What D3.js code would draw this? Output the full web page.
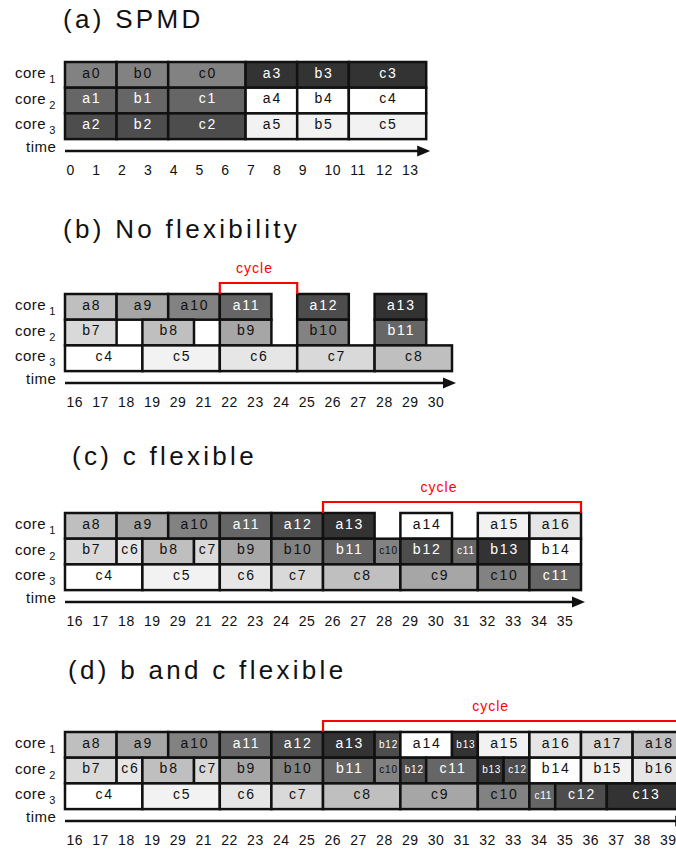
<!DOCTYPE html>
<html>
<head>
<meta charset="utf-8">
<script src="https://cdn.jsdelivr.net/npm/d3@7"></script>
<style>
  body { margin: 0; background: #fff; }
  svg { display: block; font-family: "Liberation Sans", Arial, Helvetica, sans-serif; }
</style>
</head>
<body>
<svg id="chart"></svg>
<script>
// ---- data: [task, start, end] in time slots, one list per core ----
// (a) SPMD
const spmdCore1 = [["a0",0,2],["b0",2,4],["c0",4,7],["a3",7,9],["b3",9,11],["c3",11,14]];
const spmdCore2 = [["a1",0,2],["b1",2,4],["c1",4,7],["a4",7,9],["b4",9,11],["c4",11,14]];
const spmdCore3 = [["a2",0,2],["b2",2,4],["c2",4,7],["a5",7,9],["b5",9,11],["c5",11,14]];
const spmdTicks = ["0","1","2","3","4","5","6","7","8","9","10","11","12","13"];

// (b) No flexibility
const noflexCore1 = [["a8",0,2],["a9",2,4],["a10",4,6],["a11",6,8],["a12",9,11],["a13",12,14]];
const noflexCore2 = [["b7",0,2],["b8",3,5],["b9",6,8],["b10",9,11],["b11",12,14]];
const noflexCore3 = [["c4",0,3],["c5",3,6],["c6",6,9],["c7",9,12],["c8",12,15]];
const noflexTicks = ["16","17","18","19","29","21","22","23","24","25","26","27","28","29","30"];
const noflexCycle = [6, 9];

// (c) c flexible
const cflexCore1 = [["a8",0,2],["a9",2,4],["a10",4,6],["a11",6,8],["a12",8,10],["a13",10,12],
                    ["a14",13,15],["a15",16,18],["a16",18,20]];
const cflexCore2 = [["b7",0,2],["c6",2,3],["b8",3,5],["c7",5,6],["b9",6,8],["b10",8,10],["b11",10,12],
                    ["c10",12,13],["b12",13,15],["c11",15,16],["b13",16,18],["b14",18,20]];
const cflexCore3 = [["c4",0,3],["c5",3,6],["c6",6,8],["c7",8,10],["c8",10,13],["c9",13,16],
                    ["c10",16,18],["c11",18,20]];
const cflexTicks = ["16","17","18","19","29","21","22","23","24","25","26","27","28","29","30",
                    "31","32","33","34","35"];
const cflexCycle = [10, 20];

// (d) b and c flexible
const bcflexCore1 = [["a8",0,2],["a9",2,4],["a10",4,6],["a11",6,8],["a12",8,10],["a13",10,12],
                     ["b12",12,13],["a14",13,15],["b13",15,16],["a15",16,18],["a16",18,20],
                     ["a17",20,22],["a18",22,24]];
const bcflexCore2 = [["b7",0,2],["c6",2,3],["b8",3,5],["c7",5,6],["b9",6,8],["b10",8,10],["b11",10,12],
                     ["c10",12,13],["b12",13,14],["c11",14,16],["b13",16,17],["c12",17,18],
                     ["b14",18,20],["b15",20,22],["b16",22,24]];
const bcflexCore3 = [["c4",0,3],["c5",3,6],["c6",6,8],["c7",8,10],["c8",10,13],["c9",13,16],
                     ["c10",16,18],["c11",18,19],["c12",19,21],["c13",21,24]];
const bcflexTicks = ["16","17","18","19","29","21","22","23","24","25","26","27","28","29","30",
                     "31","32","33","34","35","36","37","38","39"];
const bcflexCycle = [10, 24];

const coreNames = ["1", "2", "3"];

// ---- layout ----
const W = 676, H = 852;
const X0 = 65, UNIT = 25.8, ROWH = 25.7;
// shade depends on the task number (mod 10)
const grays = ["#828282","#666666","#4d4d4d","#333333","#ffffff","#f2f2f2","#e6e6e6","#d9d9d9","#bfbfbf","#a6a6a6"];
const INK = "#111";

const panels = [
  {title: "(a) SPMD", tx: 63, ty: 28, top: 62, cores: [spmdCore1, spmdCore2, spmdCore3], ticks: spmdTicks, cycle: null},
  {title: "(b) No flexibility", tx: 63, ty: 238, top: 294, cores: [noflexCore1, noflexCore2, noflexCore3], ticks: noflexTicks, cycle: noflexCycle, cdx: -4},
  {title: "(c) c flexible", tx: 72, ty: 465, top: 513, cores: [cflexCore1, cflexCore2, cflexCore3], ticks: cflexTicks, cycle: cflexCycle, cdx: -13},
  {title: "(d) b and c flexible", tx: 68, ty: 679, top: 732, cores: [bcflexCore1, bcflexCore2, bcflexCore3], ticks: bcflexTicks, cycle: bcflexCycle, cdx: -13}
];

const svg = d3.select("#chart").attr("width", W).attr("height", H);

function taskNum(label) { return +label.replace(/\D/g, ""); }

panels.forEach(p => {
  const n = p.ticks.length;
  const x = d3.scaleLinear().domain([0, n]).range([X0, X0 + n * UNIT]);
  const y = d3.scaleBand().domain(d3.range(3)).range([p.top, p.top + 3 * ROWH]);
  const axisY = p.top + 3 * ROWH + 12;

  const g = svg.append("g");

  // title
  g.append("text")
    .attr("x", p.tx).attr("y", p.ty)
    .attr("font-size", 26).attr("letter-spacing", 3.3)
    .attr("fill", INK)
    .text(p.title);

  // core labels
  p.cores.forEach((tasks, r) => {
    const t = g.append("text")
      .attr("x", 15).attr("y", y(r) + 16)
      .attr("font-size", 15).attr("letter-spacing", 0.5)
      .attr("fill", INK)
      .text("core");
    t.append("tspan")
      .attr("dx", 3).attr("dy", 5)
      .attr("font-size", 11)
      .text(coreNames[r]);
  });

  // task blocks
  const cells = p.cores.flatMap((tasks, r) => tasks.map(d => ({label: d[0], s: d[1], e: d[2], row: r})));

  g.selectAll(".cell")
    .data(cells)
    .enter().append("rect")
      .attr("class", "cell")
      .attr("x", d => x(d.s))
      .attr("y", d => y(d.row))
      .attr("width", d => x(d.e) - x(d.s))
      .attr("height", y.bandwidth())
      .attr("fill", d => grays[taskNum(d.label) % 10])
      .attr("stroke", INK)
      .attr("stroke-width", 2.5);

  g.selectAll(".lbl")
    .data(cells)
    .enter().append("text")
      .attr("class", "lbl")
      .attr("x", d => (x(d.s) + x(d.e)) / 2 + 1)
      .attr("y", d => y(d.row) + 15.5)
      .attr("text-anchor", "middle")
      .attr("font-size", d => (d.e - d.s === 1 && d.label.length > 2) ? 10 : 14)
      .attr("letter-spacing", d => (d.e - d.s === 1 && d.label.length > 2) ? 0.8 : 1.8)
      .attr("fill", d => [1, 2, 3].includes(taskNum(d.label) % 10) ? "#fff" : INK)
      .text(d => d.label);

  // cycle bracket
  if (p.cycle) {
    const x1 = x(p.cycle[0]), x2 = x(p.cycle[1]);
    g.append("path")
      .attr("d", `M${x1},${p.top} V${p.top - 11} H${x2} V${p.top}`)
      .attr("fill", "none")
      .attr("stroke", "#ff0000")
      .attr("stroke-width", 2.2);
    g.append("text")
      .attr("x", (x1 + x2) / 2 + p.cdx)
      .attr("y", p.top - 21)
      .attr("text-anchor", "middle")
      .attr("font-size", 14).attr("letter-spacing", 1)
      .attr("fill", "#ff0000")
      .text("cycle");
  }

  // time axis with arrow
  g.append("text")
    .attr("x", 26).attr("y", axisY + 1)
    .attr("font-size", 15).attr("letter-spacing", 0.5)
    .attr("fill", INK)
    .text("time");

  const tip = x(n) + 4;
  g.append("line")
    .attr("x1", x(0)).attr("x2", tip - 10)
    .attr("y1", axisY).attr("y2", axisY)
    .attr("stroke", INK).attr("stroke-width", 2.5);
  g.append("path")
    .attr("d", `M${tip},${axisY} L${tip - 13},${axisY - 5.5} L${tip - 13},${axisY + 5.5} Z`)
    .attr("fill", INK);

  const ax = g.append("g")
    .attr("transform", `translate(0,${axisY})`)
    .call(d3.axisBottom(x)
      .tickValues(d3.range(n))
      .tickFormat(i => p.ticks[i])
      .tickSize(0));
  ax.select(".domain").remove();
  ax.selectAll("text")
    .attr("text-anchor", "start")
    .attr("x", 1)
    .attr("y", 23.5)
    .attr("dy", 0)
    .attr("font-size", 14)
    .attr("letter-spacing", 0.5)
    .attr("font-family", "Liberation Sans, Arial, sans-serif")
    .attr("fill", INK);
});
</script>
</body>
</html>
